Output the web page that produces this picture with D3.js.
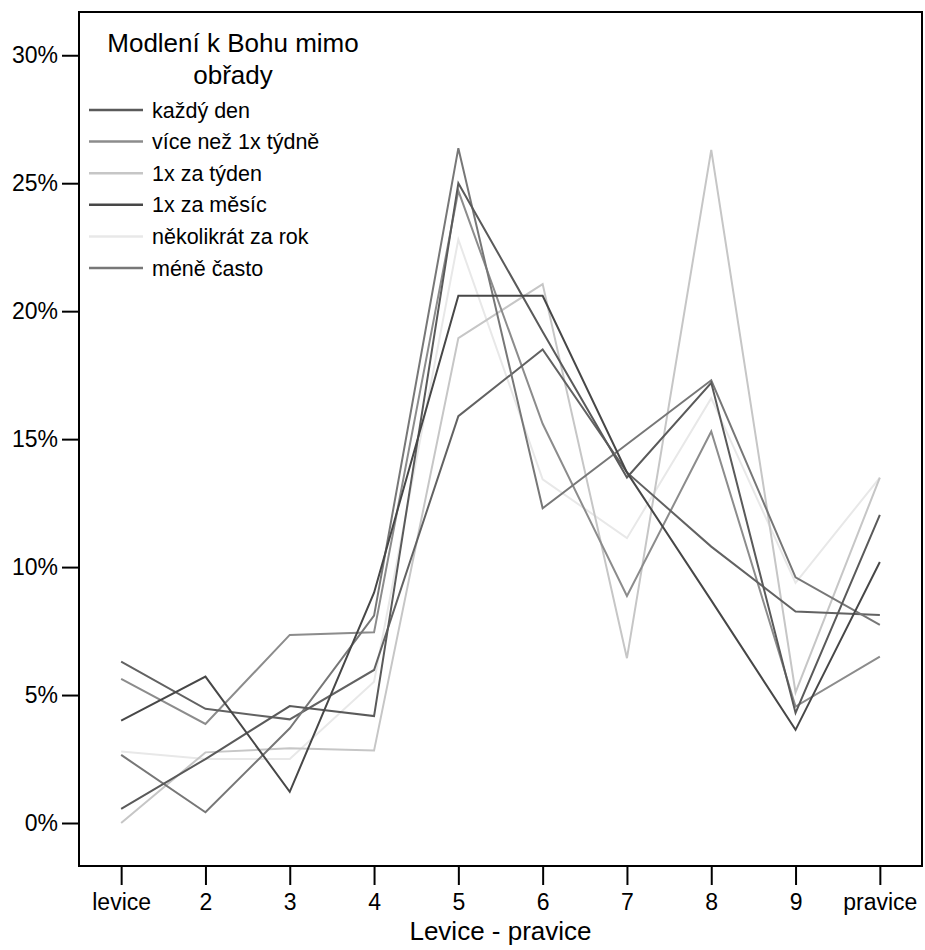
<!DOCTYPE html>
<html>
<head>
<meta charset="utf-8">
<script src="https://cdn.jsdelivr.net/npm/d3@7"></script>
<style>
  body { margin: 0; background: #fff; }
  text { font-family: Arial, "Liberation Sans", sans-serif; fill: #000; }
</style>
</head>
<body>
<svg id="chart" width="925" height="950"></svg>
<script>
// kategorie na ose x
const categories = ["levice", "2", "3", "4", "5", "6", "7", "8", "9", "pravice"];

// hodnoty v procentech, jedna rada na kategorii odpovedi
const kazdyDen      = [0.55, 2.5, 4.57, 4.18, 25.0, 19.2, 13.5, 17.2, 4.3, 12.04];
const viceNez1x     = [5.63, 3.87, 7.35, 7.45, 24.7, 15.6, 8.87, 15.3, 4.55, 6.5];
const jednouTyden   = [0.0, 2.76, 2.92, 2.83, 18.95, 21.06, 6.44, 26.3, 5.1, 13.5];
const jednouMesic   = [4.0, 5.72, 1.22, 9.0, 20.6, 20.6, 13.7, 8.7, 3.64, 10.2];
const nekolikratRok = [2.79, 2.5, 2.5, 5.52, 22.8, 13.43, 11.13, 16.6, 9.38, 13.5];
const meneCasto     = [2.66, 0.42, 3.7, 8.1, 26.37, 12.3, 14.8, 17.3, 9.6, 7.74];
const dalsi         = [6.31, 4.46, 4.05, 5.98, 15.9, 18.5, 13.7, 10.8, 8.26, 8.13];

const seriesNames = ["každý den", "více než 1x týdně", "1x za týden", "1x za měsíc",
                     "několikrát za rok", "méně často", ""];
const seriesValues = [kazdyDen, viceNez1x, jednouTyden, jednouMesic, nekolikratRok, meneCasto, dalsi];
const seriesColors = ["#5a5a5a", "#8c8c8c", "#c6c6c6", "#474747", "#e8e8e8", "#777777", "#626262"];

const yTicks = [0, 5, 10, 15, 20, 25, 30];

const svg = d3.select("#chart");
const mLeft = 79, mRight = 922, mTop = 12, mBottom = 866;

const x = d3.scalePoint().domain(categories).range([mLeft, mRight]).padding(0.5);
// 0 % lezi na y=823, 25 % na y=183.3
const y = d3.scaleLinear().domain([-1.68, 31.69]).range([mBottom, mTop]);

// cary
const line = d3.line()
    .x((d, i) => x(categories[i]))
    .y(d => y(d));

// poradi kresleni: svetle cary dospod
const drawOrder = [4, 2, 1, 6, 5, 0, 3];
svg.append("g")
    .selectAll("path")
    .data(drawOrder)
    .join("path")
    .attr("d", k => line(seriesValues[k]))
    .attr("fill", "none")
    .attr("stroke", k => seriesColors[k])
    .attr("stroke-width", 2);

// ramecek
svg.append("rect")
    .attr("x", mLeft).attr("y", mTop)
    .attr("width", mRight - mLeft).attr("height", mBottom - mTop)
    .attr("fill", "none")
    .attr("stroke", "#000")
    .attr("stroke-width", 2);

// osa y
const yAxis = svg.append("g")
    .attr("transform", `translate(${mLeft},0)`)
    .call(d3.axisLeft(y).tickValues(yTicks).tickFormat(d => d + "%").tickSize(17).tickPadding(4));
yAxis.select(".domain").remove();
yAxis.selectAll("line").attr("stroke", "#000").attr("stroke-width", 2);
yAxis.selectAll("text").attr("font-size", 23).attr("font-family", "Arial, 'Liberation Sans', sans-serif");

// osa x
const xAxis = svg.append("g")
    .attr("transform", `translate(0,${mBottom})`)
    .call(d3.axisBottom(x).tickSize(19).tickPadding(9));
xAxis.select(".domain").remove();
xAxis.selectAll("line").attr("stroke", "#000").attr("stroke-width", 2);
xAxis.selectAll("text").attr("font-size", 23).attr("font-family", "Arial, 'Liberation Sans', sans-serif");

svg.append("text")
    .attr("x", (mLeft + mRight) / 2)
    .attr("y", 940)
    .attr("text-anchor", "middle")
    .attr("font-size", 26)
    .text("Levice - pravice");

// legenda
const legend = svg.append("g");
legend.append("text")
    .attr("x", 233).attr("y", 52)
    .attr("text-anchor", "middle")
    .attr("font-size", 26)
    .text("Modlení k Bohu mimo");
legend.append("text")
    .attr("x", 233).attr("y", 84)
    .attr("text-anchor", "middle")
    .attr("font-size", 26)
    .text("obřady");

const items = legend.selectAll("g.item")
    .data(d3.range(6))
    .join("g")
    .attr("class", "item")
    .attr("transform", i => `translate(0,${110 + i * 31.6})`);
items.append("line")
    .attr("x1", 89).attr("x2", 143)
    .attr("stroke", i => seriesColors[i])
    .attr("stroke-width", 2.5);
items.append("text")
    .attr("x", 152)
    .attr("dy", "0.35em")
    .attr("font-size", 21.5)
    .text(i => seriesNames[i]);
</script>
</body>
</html>
